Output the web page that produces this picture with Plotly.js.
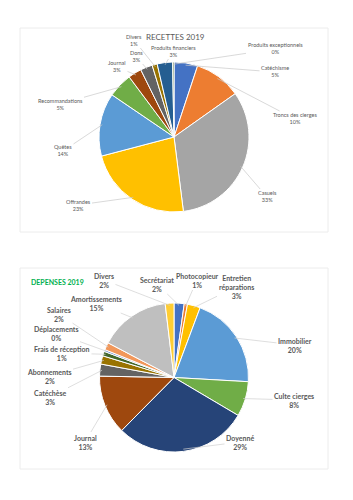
<!DOCTYPE html>
<html><head><meta charset="utf-8">
<script src="https://cdn.plot.ly/plotly-3.0.1.min.js"></script>
<style>html,body{margin:0;padding:0;background:#fff}#c{width:353px;height:500px}</style>
</head><body><div id="c"></div>
<script>
// RECETTES 2019
const recLabels = ["Catéchisme","Troncs des cierges","Casuels","Offrandes","Quêtes","Recommandations","Journal","Dons","Divers","Produits financiers","Produits exceptionnels"];
const recValues = [5.1,10.1,32.8,22.9,13.6,5.3,2.9,2.6,1.1,3.3,0.3];
const recColors = ["#4472C4","#ED7D31","#A5A5A5","#FFC000","#5B9BD5","#70AD47","#9E480E","#636363","#997300","#255E91","#43682B"];
// DEPENSES 2019
const depLabels = ["Secrétariat","Photocopieur","Entretien<br>réparations","Immobilier","Culte cierges","Doyenné","Journal","Catéchèse","Abonnements","Frais de réception","Déplacements","Salaires","Amortissements","Divers"];
const depValues = [2.2,0.7,2.8,20.2,7.6,28.9,12.9,2.6,1.8,1.0,0.4,1.6,15.4,1.9];
const depColors = ["#4472C4","#ED7D31","#FFC000","#5B9BD5","#70AD47","#264478","#9E480E","#636363","#997300","#43682B","#698ED0","#F1975A","#BFBFBF","#FFCD33"];

const W = 353, H = 500;
const pie1 = {cx:174, cy:137, r:75};
const pie2 = {cx:174, cy:377.5, r:74.5};
// label positions (layout)
const recLabelPos = [[275,72],[295,119],[267,197],[78,205],[63,151],[60,104],[117,67],[136,56],[134,40],[173,51],[275,49]];
const depLabelPos = [[157,284],[197,280],[236,287],[295,345],[294,400],[240,442],[85,442],[50,397],[49,376],[62,353],[56,333],[59,314],[96,303],[104,280]];

function dom(p){return {x:[(p.cx-p.r)/W,(p.cx+p.r)/W], y:[1-(p.cy+p.r)/H,1-(p.cy-p.r)/H]};}

const traces = [
  {type:'pie', labels:recLabels, values:recValues, marker:{colors:recColors, line:{color:'#fff',width:1}},
   sort:false, direction:'clockwise', rotation:0, textinfo:'none', hoverinfo:'label+percent', domain:dom(pie1), showlegend:false},
  {type:'pie', labels:depLabels, values:depValues, marker:{colors:depColors, line:{color:'#fff',width:1}},
   sort:false, direction:'clockwise', rotation:0, textinfo:'none', hoverinfo:'label+percent', domain:dom(pie2), showlegend:false}
];

function makeAnn(labels, values, pos, p, font, lineColor){
  const tot = values.reduce((a,b)=>a+b,0);
  let cum = 0; const out = [];
  values.forEach((v,i)=>{
    const m = (cum + v/2)/tot; cum += v;
    const th = 2*Math.PI*m;
    const px = p.cx + p.r*Math.sin(th)*0.97, py = p.cy - p.r*Math.cos(th)*0.97;
    const pct = Math.round(v/tot*100) + '%';
    out.push({xref:'paper', yref:'paper', x:px/W, y:1-py/H, axref:'pixel', ayref:'pixel',
      ax:pos[i][0]-px, ay:pos[i][1]-py, text:labels[i]+'<br>'+pct, showarrow:true, arrowhead:0,
      arrowwidth:0.7, arrowcolor:lineColor, standoff:0, startstandoff:0, xanchor:'center', yanchor:'middle', align:'center', font:font});
  });
  return out;
}

const f1 = {family:'Lato, "Noto Sans", sans-serif', size:5.5, color:'#595959'};
const f2 = {family:'Lato, "Noto Sans", sans-serif', size:7, color:'#595959', weight:'bold'};
let anns = makeAnn(recLabels, recValues, recLabelPos, pie1, f1, '#c8c8c8')
  .concat(makeAnn(depLabels, depValues, depLabelPos, pie2, f2, '#d0d0d0'));
anns.push({xref:'paper', yref:'paper', x:175/W, y:1-37/H, text:'RECETTES 2019', showarrow:false, xanchor:'center', yanchor:'middle',
  font:{family:'Lato, "Noto Sans", sans-serif', size:8, color:'#595959'}});
anns.push({xref:'paper', yref:'paper', x:57/W, y:1-282/H, text:'DEPENSES 2019', showarrow:false, xanchor:'center', yanchor:'middle',
  font:{family:'Lato, "Noto Sans", sans-serif', size:7, color:'#00B050', weight:'bold'}});

const layout = {
  width:W, height:H, margin:{l:0,r:0,t:0,b:0}, paper_bgcolor:'#fff', plot_bgcolor:'#fff', showlegend:false,
  shapes:[
    {type:'rect', xref:'paper', yref:'paper', x0:20/W, x1:328/W, y0:1-232/H, y1:1-28/H, line:{color:'#ececec', width:1}, fillcolor:'rgba(0,0,0,0)', layer:'below'},
    {type:'rect', xref:'paper', yref:'paper', x0:20/W, x1:328/W, y0:1-469/H, y1:1-268/H, line:{color:'#ececec', width:1}, fillcolor:'rgba(0,0,0,0)', layer:'below'}
  ],
  annotations:anns
};
Plotly.newPlot('c', traces, layout, {displayModeBar:false, staticPlot:true});
</script></body></html>
